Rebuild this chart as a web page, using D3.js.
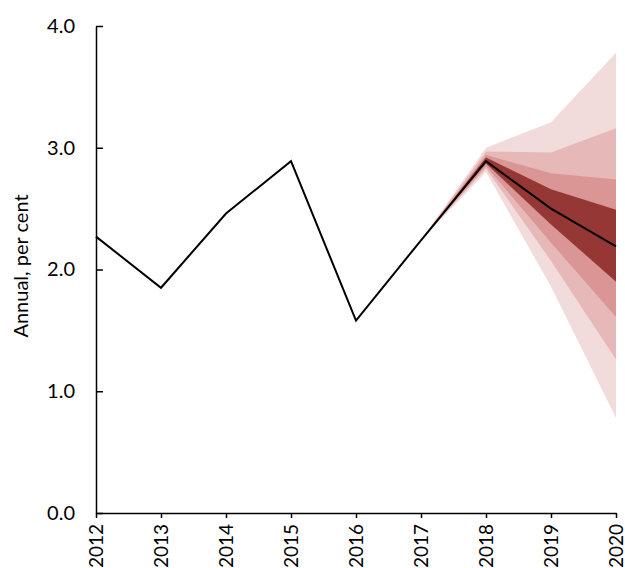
<!DOCTYPE html>
<html lang="en">
<head>
  <meta charset="UTF-8">
  <title>Fan chart</title>
  <style>
    body { margin: 0; background: #fff; }
    svg text { font-family: Lato, "Open Sans", sans-serif; fill: #000; }
    .axis path, .axis line { stroke: #000; stroke-width: 1.5px; }
  </style>
</head>
<body>
  <div id="chart"></div>
  <script src="https://d3js.org/d3.v7.min.js"></script>
  <script>
    const years = [2012, 2013, 2014, 2015, 2016, 2017, 2018, 2019, 2020];
    const actual = [2.27, 1.85, 2.46, 2.89, 1.58, 2.24, 2.89, 2.50, 2.19];

    // fan bands, from 2017 onwards (outer to inner)
    const fanYears = [2017, 2018, 2019, 2020];
    const outerHi = [2.24, 3.00, 3.21, 3.78];
    const outerLo = [2.24, 2.80, 1.86, 0.78];
    const band2Hi = [2.24, 2.97, 2.96, 3.16];
    const band2Lo = [2.24, 2.83, 2.07, 1.26];
    const band3Hi = [2.24, 2.94, 2.79, 2.74];
    const band3Lo = [2.24, 2.85, 2.22, 1.61];
    const innerHi = [2.24, 2.92, 2.66, 2.49];
    const innerLo = [2.24, 2.87, 2.37, 1.90];

    const yTicks = [0, 1, 2, 3, 4];

    const width = 625, height = 568;
    const margin = { top: 26, right: 9, bottom: 55, left: 96 };

    const svg = d3.select("#chart").append("svg")
      .attr("width", width)
      .attr("height", height);

    const x = d3.scaleLinear().domain([2012, 2020]).range([margin.left, width - margin.right]);
    const y = d3.scaleLinear().domain([0, 4]).range([height - margin.bottom, margin.top]);

    const bands = [
      { hi: outerHi, lo: outerLo, color: "#F2DCDB" },
      { hi: band2Hi, lo: band2Lo, color: "#E6B9B8" },
      { hi: band3Hi, lo: band3Lo, color: "#D99694" },
      { hi: innerHi, lo: innerLo, color: "#953735" }
    ];

    const area = d3.area()
      .x(d => x(d.year))
      .y0(d => y(d.lo))
      .y1(d => y(d.hi));

    svg.selectAll(".band")
      .data(bands)
      .enter()
      .append("path")
      .attr("class", "band")
      .attr("fill", d => d.color)
      .attr("d", d => area(fanYears.map((yr, i) => ({ year: yr, hi: d.hi[i], lo: d.lo[i] }))));

    // Axes
    const yAxis = svg.append("g")
      .attr("class", "axis")
      .attr("transform", `translate(${margin.left},0)`)
      .call(d3.axisRight(y).tickValues(yTicks).tickSize(7).tickFormat(d3.format(".1f")).tickSizeOuter(0));
    yAxis.selectAll("text")
      .attr("x", -21)
      .attr("text-anchor", "end")
      .style("font-size", "20px");

    const xAxis = svg.append("g")
      .attr("class", "axis")
      .attr("transform", `translate(0,${y(0)})`)
      .call(d3.axisBottom(x).tickValues(years).tickFormat(d3.format("d")).tickSize(5).tickSizeOuter(0));
    xAxis.selectAll("text")
      .attr("transform", "rotate(-90)")
      .attr("x", -11)
      .attr("y", 0)
      .attr("dy", "0.35em")
      .attr("text-anchor", "end")
      .style("font-size", "19px");

    // Actual line
    const line = d3.line()
      .x((d, i) => x(years[i]))
      .y(d => y(d));

    svg.append("path")
      .datum(actual)
      .attr("fill", "none")
      .attr("stroke", "#000")
      .attr("stroke-width", 2)
      .attr("d", line);

    svg.append("text")
      .attr("transform", `translate(28,266) rotate(-90)`)
      .attr("text-anchor", "middle")
      .style("font-size", "20px")
      .text("Annual, per cent");
  </script>
</body>
</html>
